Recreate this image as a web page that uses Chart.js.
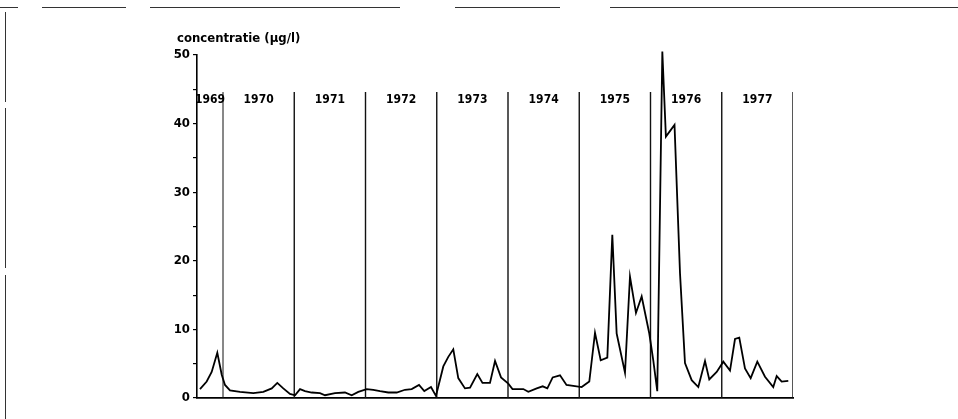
<!DOCTYPE html>
<html>
<head>
<meta charset="utf-8">
<script src="https://cdn.jsdelivr.net/npm/chart.js@4/dist/chart.umd.min.js"></script>
<style>
  html, body { margin: 0; padding: 0; background: #fff; }
  #wrap { position: relative; width: 958px; height: 419px; overflow: hidden; }
  canvas { position: absolute; left: 0; top: 0; }
  .fr { position: absolute; background: #333; }
</style>
</head>
<body>
<div id="wrap">
  <canvas id="c" width="958" height="419"></canvas>
  <div class="fr" style="left:0;top:7px;width:18px;height:1px"></div>
  <div class="fr" style="left:42px;top:7px;width:84px;height:1px"></div>
  <div class="fr" style="left:150px;top:7px;width:250px;height:1px"></div>
  <div class="fr" style="left:455px;top:7px;width:105px;height:1px"></div>
  <div class="fr" style="left:610px;top:7px;width:348px;height:1px"></div>
  <div class="fr" style="left:5px;top:12px;width:1px;height:90px"></div>
  <div class="fr" style="left:5px;top:108px;width:1px;height:160px"></div>
  <div class="fr" style="left:5px;top:275px;width:1px;height:144px"></div>
</div>
<script>
// ---- data ----
const yearLabels = ['1969','1970','1971','1972','1973','1974','1975','1976','1977'];
const yearBoundaries = [1970, 1971, 1972, 1973, 1974, 1975, 1976, 1977, 1978];
const sampleDates = [
  1969.677, 1969.771, 1969.841, 1969.920, 1969.982, 1970.028, 1970.098, 1970.239,
  1970.425, 1970.566, 1970.684, 1970.762, 1970.846, 1970.940, 1971.011, 1971.081,
  1971.151, 1971.245, 1971.361, 1971.432, 1971.572, 1971.712, 1971.806, 1971.899,
  1972.017, 1972.109, 1972.204, 1972.320, 1972.438, 1972.554, 1972.648, 1972.751,
  1972.825, 1972.919, 1972.989, 1973.092, 1973.162, 1973.232, 1973.302, 1973.396,
  1973.467, 1973.569, 1973.642, 1973.747, 1973.818, 1973.902, 1974.004, 1974.063,
  1974.215, 1974.285, 1974.403, 1974.487, 1974.552, 1974.627, 1974.730, 1974.821,
  1975.034, 1975.141, 1975.221, 1975.301, 1975.394, 1975.464, 1975.525, 1975.642,
  1975.712, 1975.796, 1975.876, 1975.983, 1976.039, 1976.095, 1976.166, 1976.216,
  1976.337, 1976.414, 1976.484, 1976.578, 1976.671, 1976.765, 1976.825, 1976.929,
  1977.022, 1977.116, 1977.186, 1977.246, 1977.326, 1977.406, 1977.499, 1977.607,
  1977.723, 1977.771, 1977.841, 1977.934
];
const concentration = [
  1.3, 2.4, 3.8, 6.6, 3.4, 1.9, 1.1, 0.9,
  0.7, 0.9, 1.4, 2.2, 1.4, 0.6, 0.4, 1.3,
  1.0, 0.8, 0.7, 0.4, 0.7, 0.8, 0.4, 0.9,
  1.3, 1.2, 1.0, 0.8, 0.8, 1.2, 1.3, 1.9,
  1.0, 1.6, 0.3, 4.6, 6.0, 7.1, 2.9, 1.4,
  1.5, 3.5, 2.2, 2.2, 5.4, 3.0, 2.1, 1.3,
  1.3, 0.9, 1.4, 1.7, 1.4, 3.0, 3.3, 1.9,
  1.6, 2.4, 9.5, 5.5, 5.9, 23.8, 9.4, 3.7,
  17.7, 12.4, 14.8, 9.4, 5.5, 1.0, 50.5, 38.1,
  39.8, 18.2, 5.1, 2.6, 1.6, 5.4, 2.7, 3.8,
  5.3, 4.0, 8.6, 8.8, 4.3, 2.9, 5.3, 3.1,
  1.6, 3.2, 2.4, 2.5
];
const yTickLabels = [0, 10, 20, 30, 40, 50];
const yearLineTop = 44.6;
const yearLabelLevel = 43.5;
const xStart = 1969.635;
const titleText = 'concentratie (µg/l)';

const FONT = "'Liberation Sans Narrow', 'DejaVu Sans Condensed', sans-serif";

const datasets = [{
  data: sampleDates.map((d, i) => ({ x: d, y: concentration[i] })),
  borderColor: '#000',
  borderWidth: 1.8,
  pointRadius: 0,
  tension: 0,
  fill: false,
  clip: false
}];
yearBoundaries.forEach(b => {
  datasets.push({
    data: [{ x: b, y: 0 }, { x: b, y: yearLineTop }],
    borderColor: '#111',
    borderWidth: b === 1970 ? 1 : 1.4,
    pointRadius: 0,
    fill: false
  });
});

const textPlugin = {
  id: 'texts',
  afterDraw(chart) {
    const { ctx, chartArea, scales } = chart;
    const xs = scales.x, ys = scales.y;
    ctx.save();
    ctx.fillStyle = '#000';
    ctx.font = 'bold 12px ' + FONT;
    ctx.textBaseline = 'middle';
    ctx.textAlign = 'center';
    const ly = ys.getPixelForValue(yearLabelLevel);
    yearLabels.forEach((lab, i) => {
      const a = Math.max(yearBoundaries[i] - 1, xStart);
      const b = yearBoundaries[i];
      const cx = (xs.getPixelForValue(a) + xs.getPixelForValue(b)) / 2;
      ctx.fillText(lab, cx, ly);
    });
    ctx.font = 'bold 13px ' + FONT;
    ctx.textAlign = 'left';
    ctx.fillText(titleText, chartArea.left - 20, chartArea.top - 16);
    ctx.restore();
  }
};

new Chart(document.getElementById('c'), {
  type: 'line',
  data: { datasets },
  options: {
    responsive: false,
    animation: false,
    events: [],
    layout: { padding: { left: 150, right: 165, top: 55, bottom: 21 } },
    plugins: { legend: { display: false }, tooltip: { enabled: false }, title: { display: false } },
    scales: {
      x: {
        type: 'linear',
        min: xStart,
        max: 1978,
        grid: { display: false, drawTicks: false },
        border: { display: true, color: '#000', width: 1.8 },
        ticks: { display: false },
        afterFit(s) { s.height = 0; }
      },
      y: {
        min: 0,
        max: 50,
        grid: { drawOnChartArea: false, drawTicks: true, tickLength: 4, color: '#000', lineWidth: 1.2 },
        border: { display: true, color: '#000', width: 1.6 },
        ticks: {
          stepSize: 5,
          padding: 3,
          color: '#000',
          font: { family: FONT, size: 13, weight: 'bold' },
          callback: v => (yTickLabels.includes(v) ? String(v) : '')
        },
        afterFit(s) { s.width = 47; }
      }
    }
  },
  plugins: [textPlugin]
});
</script>
</body>
</html>
